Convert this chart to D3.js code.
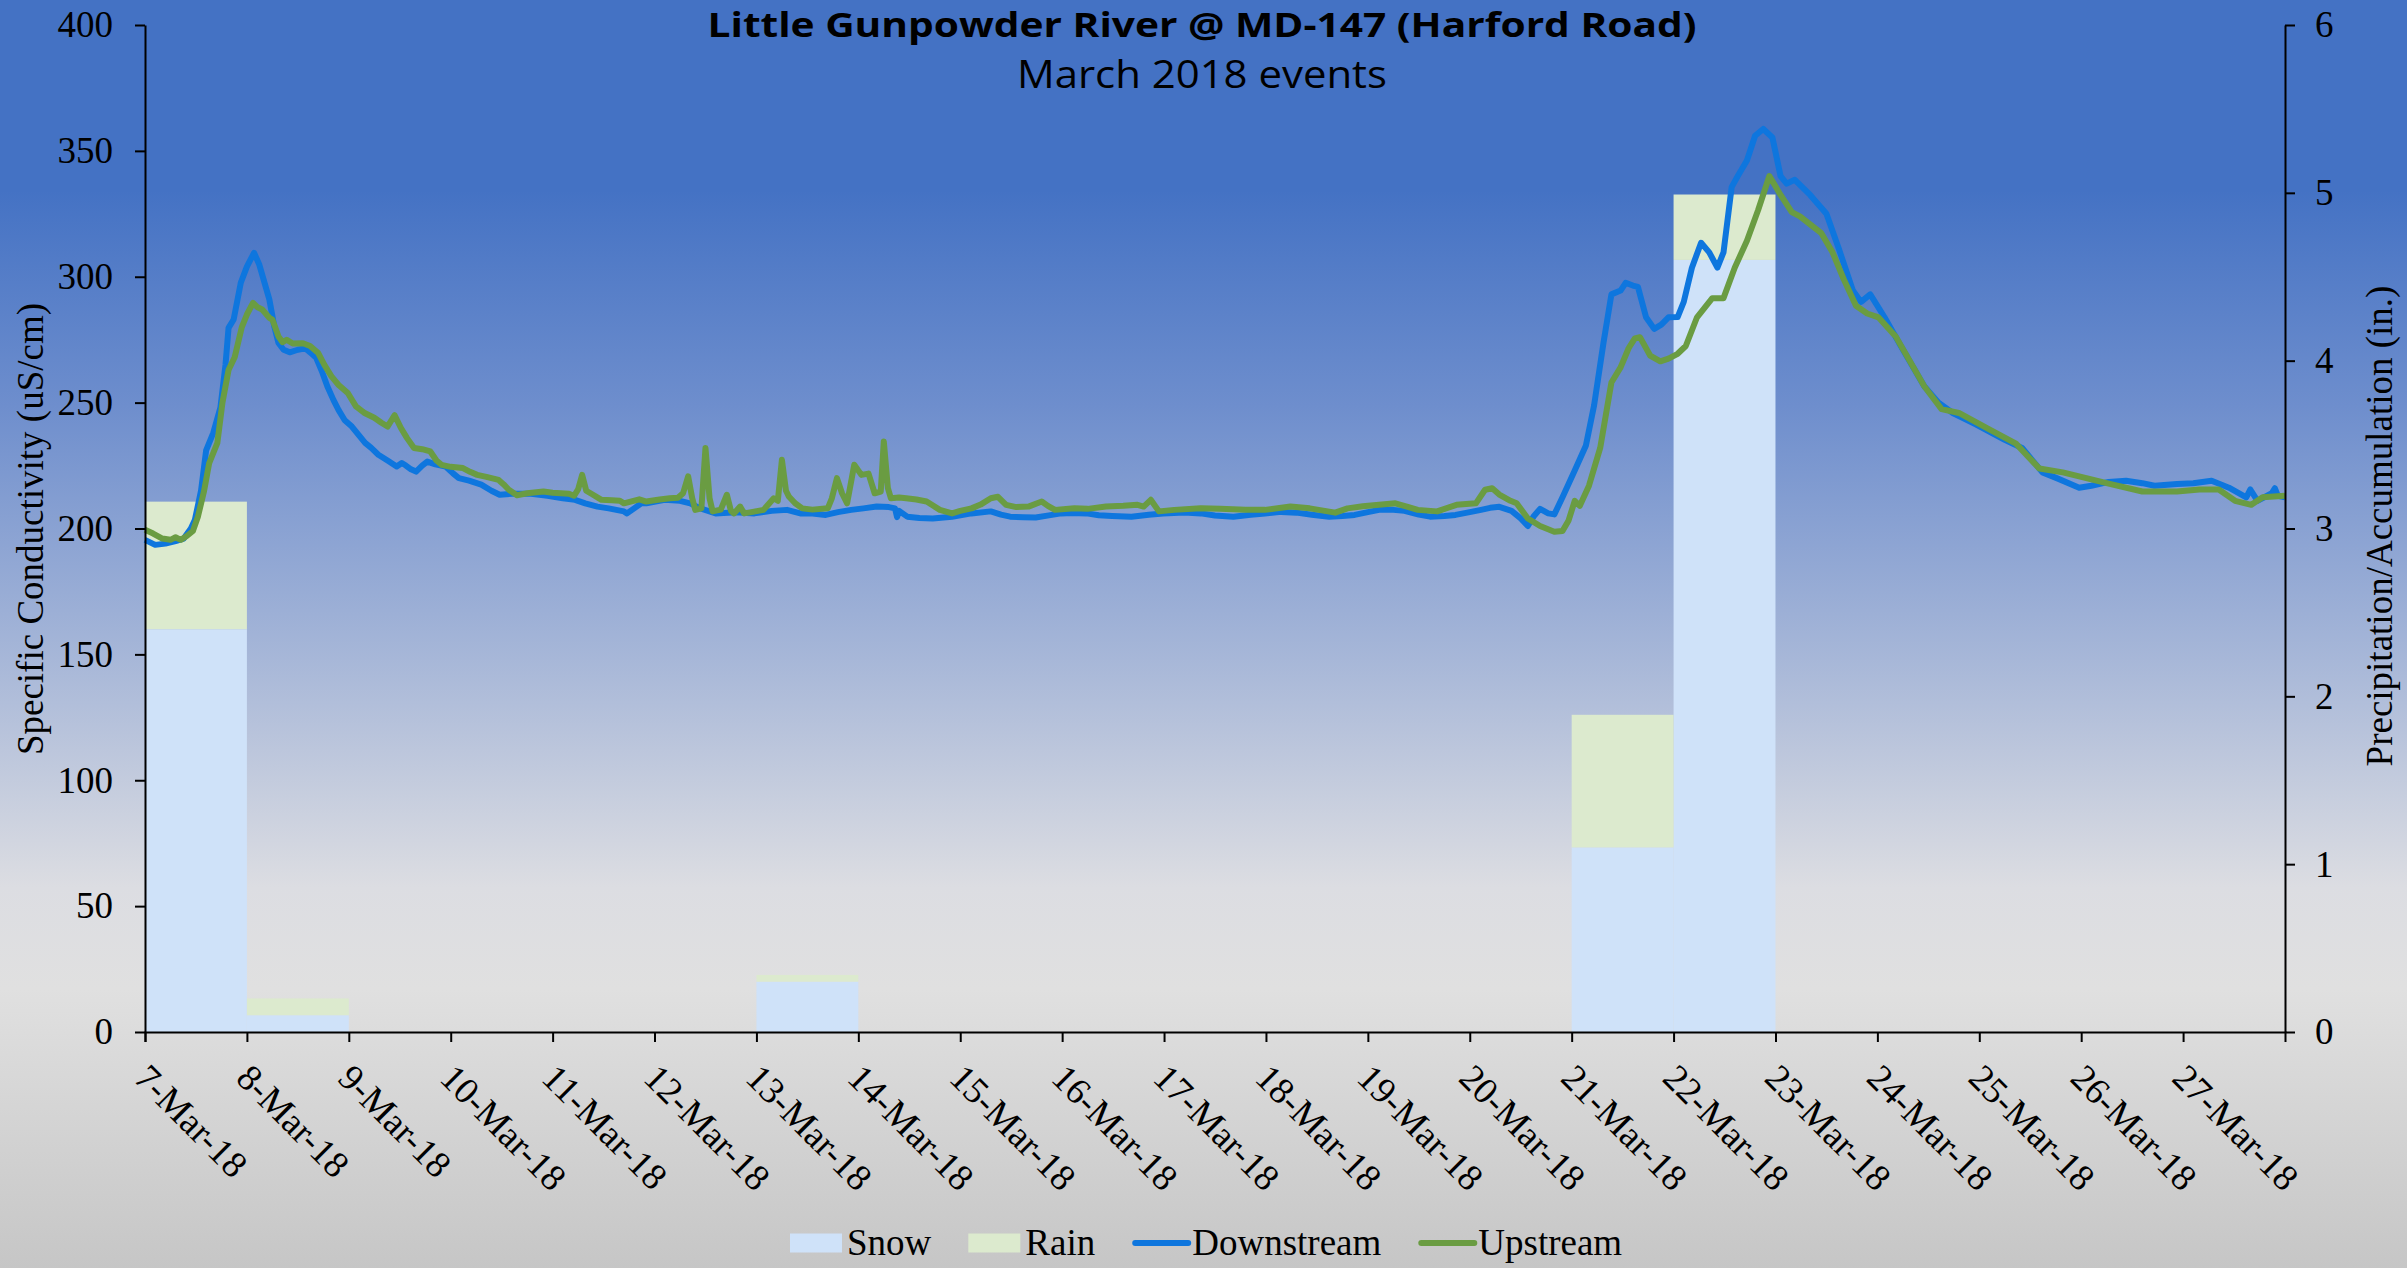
<!DOCTYPE html>
<html>
<head>
<meta charset="utf-8">
<script src="https://cdn.jsdelivr.net/npm/d3@7"></script>
<style>
    body { margin: 0; }
    svg { display: block; }
    .axis path, .axis line { stroke: #000; stroke-width: 2px; }
    .axis text { font-family: "Liberation Serif", "Times New Roman", serif; font-size: 37px; fill: #000; }
    .aText { font-family: "Liberation Serif", "Times New Roman", serif; font-size: 37px; fill: #000; }
</style>
</head>
<body>
<div id="chart"></div>
<script>

// Precipitation per day (inches), one entry per day from 7-Mar-18
var precipDays = ["2018-03-07", "2018-03-08", "2018-03-09", "2018-03-10", "2018-03-11", "2018-03-12", "2018-03-13",
    "2018-03-14", "2018-03-15", "2018-03-16", "2018-03-17", "2018-03-18", "2018-03-19", "2018-03-20",
    "2018-03-21", "2018-03-22", "2018-03-23", "2018-03-24", "2018-03-25", "2018-03-26", "2018-03-27"];
var snowIn = [2.40, 0.10, 0, 0, 0, 0, 0.30, 0, 0, 0, 0, 0, 0, 0, 1.10, 4.60, 0, 0, 0, 0, 0];
var rainIn = [0.76, 0.10, 0, 0, 0, 0, 0.04, 0, 0, 0, 0, 0, 0, 0, 0.79, 0.39, 0, 0, 0, 0, 0];

// Specific conductivity, [days after 7-Mar-18 00:00, uS/cm]
var downstream = [
    [0.00, 195.5], [0.10, 193.5], [0.20, 194], [0.30, 195], [0.38, 196], [0.45, 200], [0.49, 203.5], [0.55, 215],
    [0.60, 231], [0.67, 238], [0.74, 248], [0.79, 265], [0.82, 279.7], [0.87, 283], [0.94, 297.6], [1.00, 304],
    [1.07, 309.5], [1.12, 305], [1.22, 291], [1.27, 280], [1.31, 273.7], [1.36, 271], [1.42, 270], [1.50, 271],
    [1.57, 271.6], [1.62, 270], [1.68, 267.8], [1.74, 262], [1.79, 256.4], [1.85, 251], [1.90, 247], [1.96, 243],
    [2.03, 240.5], [2.10, 237], [2.16, 234], [2.22, 232], [2.29, 229.3], [2.38, 227], [2.47, 224.6], [2.52, 226],
    [2.56, 225], [2.61, 223.5], [2.66, 222.6], [2.72, 225], [2.77, 226.6], [2.85, 225.5], [2.95, 224.6], [3.02, 222],
    [3.08, 220], [3.18, 219], [3.30, 217.4], [3.40, 215], [3.48, 213.4], [3.60, 213.8], [3.79, 213.8], [3.95, 213],
    [4.10, 212], [4.22, 211.4], [4.32, 210], [4.44, 208.7], [4.55, 208], [4.70, 206.8], [4.73, 206], [4.80, 208],
    [4.87, 210], [4.92, 210], [5.10, 211.4], [5.25, 211], [5.35, 210], [5.45, 208], [5.60, 206], [5.80, 206.5],
    [5.98, 206], [6.15, 207], [6.30, 207.4], [6.43, 206], [6.55, 206], [6.68, 205.4], [6.80, 206.5], [6.93, 207.4],
    [7.05, 208], [7.18, 208.7], [7.30, 208.5], [7.36, 208], [7.38, 204.5], [7.40, 207], [7.48, 204.7], [7.60, 204.2],
    [7.73, 204], [7.92, 204.7], [8.11, 206], [8.30, 206.8], [8.40, 205.5], [8.49, 204.7], [8.62, 204.5], [8.74, 204.4],
    [8.87, 205.2], [8.99, 206], [9.10, 206.2], [9.24, 206], [9.36, 205.3], [9.49, 205], [9.68, 204.7], [9.85, 205.5],
    [9.99, 206], [10.20, 206.4], [10.36, 206], [10.50, 205.2], [10.68, 204.7], [10.85, 205.5], [10.99, 206], [11.15, 206.6],
    [11.30, 206.3], [11.45, 205.5], [11.62, 204.7], [11.75, 205], [11.87, 205.4], [12.00, 206.5], [12.11, 207.4], [12.25, 207.4],
    [12.36, 207], [12.50, 205.5], [12.61, 204.7], [12.75, 205], [12.86, 205.4], [13.00, 206.5], [13.11, 207.4], [13.20, 208.2],
    [13.29, 208.6], [13.41, 207], [13.50, 204], [13.57, 201], [13.63, 205], [13.69, 207.8], [13.77, 206], [13.83, 205.6],
    [13.91, 212.4], [14.03, 223], [14.14, 233], [14.22, 248.9], [14.31, 273.2], [14.39, 293], [14.48, 294.5], [14.53, 297.6],
    [14.60, 296.5], [14.65, 296], [14.73, 283.9], [14.81, 279.3], [14.88, 281], [14.95, 283.9], [15.04, 284], [15.10, 290],
    [15.18, 303.6], [15.27, 313.5], [15.35, 309.7], [15.43, 303.6], [15.49, 309.7], [15.57, 335.6], [15.63, 340], [15.72, 346.2],
    [15.80, 356], [15.88, 358.7], [15.97, 355.3], [16.05, 340], [16.11, 337], [16.19, 338.5], [16.34, 332.5], [16.50, 325],
    [16.62, 311.3], [16.76, 294.5], [16.84, 290], [16.93, 293], [17.07, 283.9], [17.24, 271.8], [17.46, 256.5], [17.60, 250],
    [17.74, 245.9], [17.97, 241.3], [18.25, 235.2], [18.42, 232], [18.62, 222.3], [18.76, 220], [18.98, 216.2], [19.10, 217],
    [19.27, 218.5], [19.44, 219], [19.60, 218], [19.72, 217], [19.94, 217.7], [20.10, 218], [20.28, 219], [20.45, 216.2],
    [20.62, 212.4], [20.66, 215.5], [20.73, 211], [20.87, 214], [20.90, 216], [20.93, 213], [21.00, 212.4]
];

var upstream = [
    [0.00, 199.5], [0.08, 198], [0.17, 196], [0.25, 195.5], [0.30, 196.5], [0.35, 195.5], [0.41, 197], [0.47, 199],
    [0.52, 204.8], [0.58, 215], [0.63, 226], [0.71, 234], [0.76, 250], [0.82, 263], [0.88, 268], [0.95, 280],
    [1.00, 285], [1.06, 289.6], [1.10, 288], [1.15, 287], [1.22, 283.7], [1.25, 283], [1.31, 276.3], [1.35, 274],
    [1.39, 275], [1.45, 273.5], [1.55, 273.6], [1.62, 272.5], [1.70, 269.7], [1.76, 265], [1.83, 260.4], [1.90, 257],
    [1.99, 253.8], [2.07, 248.5], [2.15, 246], [2.25, 244], [2.32, 242], [2.38, 240.5], [2.45, 245], [2.51, 240],
    [2.57, 236], [2.64, 232], [2.72, 231.5], [2.80, 230.6], [2.86, 227], [2.91, 225.3], [3.00, 224.5], [3.12, 224],
    [3.19, 222.5], [3.26, 221.3], [3.35, 220.5], [3.47, 219.3], [3.52, 217.5], [3.57, 215.4], [3.65, 213.2], [3.75, 214],
    [3.91, 214.7], [4.00, 214.2], [4.16, 213.8], [4.21, 213], [4.25, 215.5], [4.29, 221.3], [4.33, 215], [4.38, 213.8],
    [4.48, 211.4], [4.58, 211.2], [4.66, 211], [4.70, 210], [4.85, 211.6], [4.92, 210.7], [5.05, 211.5], [5.15, 212],
    [5.23, 212.2], [5.28, 214], [5.33, 220.7], [5.37, 212], [5.40, 207.4], [5.46, 208], [5.50, 232], [5.54, 212],
    [5.57, 206.8], [5.65, 207.5], [5.71, 213.4], [5.75, 207], [5.78, 206], [5.84, 208.7], [5.88, 206], [5.95, 206.5],
    [6.07, 207.4], [6.17, 212], [6.21, 211], [6.25, 227.3], [6.29, 215], [6.32, 212.6], [6.38, 210], [6.45, 208],
    [6.55, 207.5], [6.70, 208], [6.74, 212], [6.79, 220], [6.84, 214], [6.89, 210], [6.96, 225.3], [7.03, 221.3],
    [7.10, 221.8], [7.16, 214], [7.22, 214.7], [7.25, 234.6], [7.29, 216], [7.32, 212], [7.40, 212.3], [7.47, 212],
    [7.57, 211.5], [7.67, 210.7], [7.80, 207.4], [7.92, 206], [8.00, 207], [8.11, 208], [8.20, 209.5], [8.30, 212],
    [8.37, 212.6], [8.45, 209.4], [8.55, 208.5], [8.67, 208.7], [8.80, 210.7], [8.86, 209], [8.93, 207.4], [9.12, 208],
    [9.25, 207.8], [9.43, 208.7], [9.60, 209], [9.74, 209.4], [9.80, 208.7], [9.87, 211.4], [9.95, 206.8], [10.10, 207.4],
    [10.36, 208], [10.55, 207.8], [10.80, 207.4], [10.99, 207.4], [11.24, 208.7], [11.43, 208], [11.68, 206.3], [11.80, 208],
    [11.95, 208.8], [12.11, 209.4], [12.27, 210], [12.40, 208.5], [12.49, 207.4], [12.68, 206.8], [12.87, 209.4], [13.06, 210],
    [13.15, 215.4], [13.22, 216], [13.29, 213.5], [13.40, 211], [13.46, 210], [13.57, 204], [13.69, 201], [13.83, 198.7],
    [13.91, 199], [13.97, 203.2], [14.03, 211], [14.08, 209], [14.17, 217], [14.28, 232], [14.39, 258], [14.48, 264],
    [14.56, 271.7], [14.62, 275.5], [14.67, 276], [14.77, 268.7], [14.87, 266.4], [14.95, 267.5], [15.04, 269.4], [15.12, 272.5],
    [15.23, 283.9], [15.38, 291.5], [15.49, 291.5], [15.60, 303.6], [15.72, 314.3], [15.83, 326.5], [15.94, 340], [16.05, 332.5],
    [16.16, 325.7], [16.24, 324], [16.45, 317.3], [16.56, 309.7], [16.67, 299], [16.79, 288.5], [16.90, 285.4], [17.01, 283.9],
    [17.18, 276.3], [17.46, 256.5], [17.63, 247.4], [17.80, 245.9], [18.08, 239.8], [18.36, 233.7], [18.59, 223.8], [18.82, 222.3],
    [19.05, 220], [19.28, 217.7], [19.60, 214.7], [19.94, 214.7], [20.16, 215.5], [20.35, 215.5], [20.51, 211], [20.67, 209.4],
    [20.78, 212.4], [21.00, 213]
];

var condTicks = [0, 50, 100, 150, 200, 250, 300, 350, 400];
var precipTicks = [0, 1, 2, 3, 4, 5, 6];

var legendItems = [
    { name: "Snow", type: "box", color: "#CFE2F9" },
    { name: "Rain", type: "box", color: "#DCEACE" },
    { name: "Downstream", type: "line", color: "#0E76DE" },
    { name: "Upstream", type: "line", color: "#6A9C42" }
];

function makeChart() {

    var svgWidth = 2407;
    var svgHeight = 1268;

    var margin = { top: 25, right: 122, bottom: 236, left: 145 };
    var width = svgWidth - margin.left - margin.right;
    var height = svgHeight - margin.top - margin.bottom;

    var svg = d3.select("#chart").append("svg")
        .attr("width", svgWidth)
        .attr("height", svgHeight);

    // background gradient
    var grad = svg.append("defs").append("linearGradient")
        .attr("id", "bg")
        .attr("x1", 0).attr("y1", 0).attr("x2", 0).attr("y2", 1);
    [[0, "#4472C4"], [0.15, "#4472C4"], [0.32, "#6E8ECD"], [0.52, "#A7B7D8"],
     [0.70, "#DCDDE2"], [0.78, "#E0E0E0"], [1, "#C6C6C6"]].forEach(s => {
        grad.append("stop").attr("offset", s[0]).attr("stop-color", s[1]);
    });
    svg.append("rect")
        .attr("width", svgWidth)
        .attr("height", svgHeight)
        .attr("fill", "url(#bg)");

    var chartGroup = svg.append("g")
        .attr("transform", `translate(${margin.left}, ${margin.top})`);

    var parseDay = d3.timeParse("%Y-%m-%d");
    var start = parseDay("2018-03-07");
    var end = parseDay("2018-03-28");
    var toDate = d => new Date(start.getTime() + d * 864e5);

    // Scales
    var xScale = d3.scaleTime().domain([start, end]).range([0, width]);
    var yScale = d3.scaleLinear().domain([0, 400]).range([height, 0]);
    var y2Scale = d3.scaleLinear().domain([0, 6]).range([height, 0]);

    // Stacked precipitation columns
    var precipTable = precipDays.map((d, i) => ({ day: parseDay(d), snow: snowIn[i], rain: rainIn[i] }));
    var stack = d3.stack().keys(["snow", "rain"])(precipTable);
    var barColors = { snow: "#CFE2F9", rain: "#DCEACE" };

    chartGroup.selectAll(".layer")
        .data(stack)
        .enter()
        .append("g")
        .attr("fill", d => barColors[d.key])
        .selectAll("rect")
        .data(d => d.filter(p => p[1] - p[0] > 0))
        .enter()
        .append("rect")
        .attr("x", d => xScale(d.data.day))
        .attr("width", d => xScale(d3.timeDay.offset(d.data.day, 1)) - xScale(d.data.day))
        .attr("y", d => y2Scale(d[1]))
        .attr("height", d => y2Scale(d[0]) - y2Scale(d[1]));

    // Conductivity lines
    var line = d3.line()
        .x(d => xScale(toDate(d[0])))
        .y(d => yScale(d[1]));

    chartGroup.append("path")
        .datum(downstream)
        .attr("fill", "none")
        .attr("stroke", "#0E76DE")
        .attr("stroke-width", 6)
        .attr("stroke-linejoin", "round")
        .attr("d", line);

    chartGroup.append("path")
        .datum(upstream)
        .attr("fill", "none")
        .attr("stroke", "#6A9C42")
        .attr("stroke-width", 6)
        .attr("stroke-linejoin", "round")
        .attr("d", line);

    // Axes
    var bottomAxis = d3.axisBottom(xScale)
        .tickValues(d3.timeDay.range(start, end))
        .tickFormat(d3.timeFormat("%-d-%b-%y"))
        .tickSizeOuter(0)
        .tickSize(10);
    var leftAxis = d3.axisLeft(yScale).tickValues(condTicks).tickSize(10).tickSizeOuter(0).tickPadding(22);
    var rightAxis = d3.axisRight(y2Scale).tickValues(precipTicks).tickFormat(d3.format("d"))
        .tickSize(10).tickSizeOuter(0).tickPadding(20);

    var xAxisG = chartGroup.append("g")
        .classed("axis", true)
        .attr("transform", `translate(0, ${height})`)
        .call(bottomAxis);

    xAxisG.selectAll("text")
        .attr("x", 0)
        .attr("y", 0)
        .attr("dy", 0)
        .attr("text-anchor", "start")
        .attr("transform", "translate(-13, 48) rotate(45)");

    chartGroup.append("g")
        .classed("axis", true)
        .call(leftAxis);

    chartGroup.append("g")
        .classed("axis", true)
        .attr("transform", `translate(${width}, 0)`)
        .call(rightAxis);

    // Axis titles
    svg.append("text")
        .classed("aText", true)
        .attr("text-anchor", "middle")
        .attr("transform", "translate(43, 529) rotate(-90)")
        .text("Specific Conductivity (uS/cm)");

    svg.append("text")
        .classed("aText", true)
        .attr("text-anchor", "middle")
        .attr("transform", "translate(2392, 526) rotate(-90)")
        .text("Precipitation/Accumulation (in.)");

    // Chart title
    svg.append("text")
        .attr("x", 1202)
        .attr("y", 37)
        .attr("text-anchor", "middle")
        .style("font-family", "'Open Sans', sans-serif")
        .style("font-weight", "bold")
        .style("font-size", "34px")
        .attr("textLength", 989)
        .attr("lengthAdjust", "spacingAndGlyphs")
        .text("Little Gunpowder River @ MD-147 (Harford Road)");

    svg.append("text")
        .attr("x", 1202)
        .attr("y", 88)
        .attr("text-anchor", "middle")
        .style("font-family", "'Open Sans', sans-serif")
        .style("font-size", "39px")
        .attr("textLength", 370)
        .attr("lengthAdjust", "spacingAndGlyphs")
        .text("March 2018 events");

    // Legend
    var legend = svg.append("g").attr("transform", "translate(790, 1243)");
    var lx = 0;
    legendItems.forEach(item => {
        if (item.type === "box") {
            legend.append("rect")
                .attr("x", lx).attr("y", -9.5)
                .attr("width", 52).attr("height", 19)
                .attr("fill", item.color);
            lx += 57;
        } else {
            legend.append("line")
                .attr("x1", lx + 3).attr("x2", lx + 56)
                .attr("y1", 0).attr("y2", 0)
                .attr("stroke", item.color)
                .attr("stroke-width", 6)
                .attr("stroke-linecap", "round");
            lx += 60;
        }
        var t = legend.append("text")
            .classed("aText", true)
            .attr("x", lx)
            .attr("y", 12)
            .text(item.name);
        lx += t.node().getComputedTextLength() + 37;
    });
}

makeChart();

</script>
</body>
</html>
